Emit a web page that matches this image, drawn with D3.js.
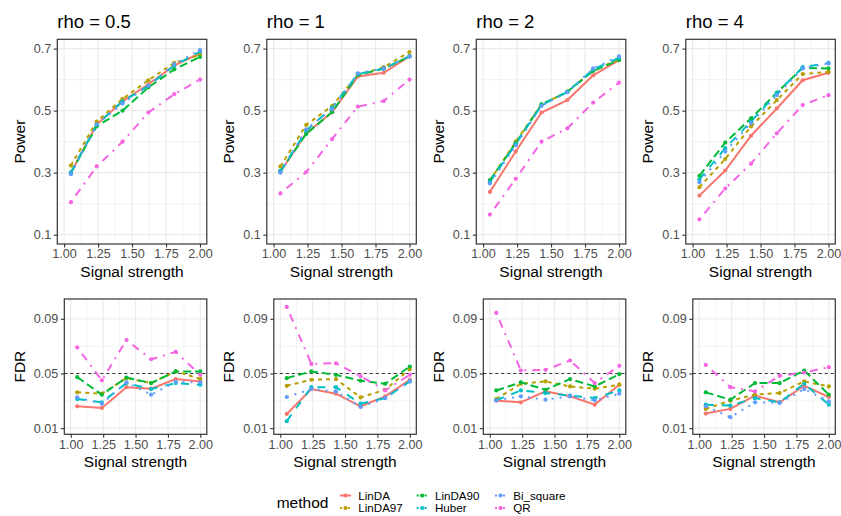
<!DOCTYPE html>
<html>
<head>
<meta charset="utf-8">
<script src="https://cdn.jsdelivr.net/npm/d3@7"></script>
<style>
  body { margin: 0; background: #fff; }
  svg { font-family: "Liberation Sans", Arial, sans-serif; }
</style>
</head>
<body>
<svg id="chart" width="841" height="516"></svg>
<script>
// ---- data ----
const signal = [1.05, 1.24, 1.43, 1.62, 1.81, 2.00];
const methods = ["LinDA", "LinDA97", "LinDA90", "Huber", "Bi_square", "QR"];
const rhoTitles = ["rho = 0.5", "rho = 1", "rho = 2", "rho = 4"];
const xTicks = [1.00, 1.25, 1.50, 1.75, 2.00];
const powerTicks = [0.1, 0.3, 0.5, 0.7];
const fdrTicks = [0.01, 0.05, 0.09];
const fdrLevel = 0.05;

// rows follow the order of `methods`
const powerRho05 = [
  [0.300, 0.455, 0.530, 0.585, 0.645, 0.685],
  [0.323, 0.465, 0.538, 0.598, 0.654, 0.680],
  [0.300, 0.450, 0.500, 0.575, 0.633, 0.673],
  [0.300, 0.455, 0.530, 0.580, 0.645, 0.690],
  [0.295, 0.455, 0.523, 0.580, 0.650, 0.695],
  [0.205, 0.320, 0.400, 0.494, 0.553, 0.600]
];
const powerRho1 = [
  [0.302, 0.427, 0.495, 0.610, 0.622, 0.675],
  [0.320, 0.454, 0.515, 0.615, 0.640, 0.689],
  [0.305, 0.425, 0.495, 0.615, 0.635, 0.675],
  [0.305, 0.435, 0.510, 0.618, 0.636, 0.675],
  [0.300, 0.440, 0.505, 0.620, 0.636, 0.675],
  [0.233, 0.302, 0.408, 0.513, 0.531, 0.600]
];
const powerRho2 = [
  [0.238, 0.368, 0.494, 0.534, 0.614, 0.663],
  [0.275, 0.400, 0.520, 0.561, 0.630, 0.665],
  [0.275, 0.395, 0.520, 0.561, 0.628, 0.663],
  [0.270, 0.392, 0.518, 0.560, 0.633, 0.670],
  [0.265, 0.388, 0.515, 0.560, 0.636, 0.675],
  [0.165, 0.280, 0.400, 0.443, 0.526, 0.590]
];
const powerRho4 = [
  [0.226, 0.307, 0.419, 0.507, 0.598, 0.622],
  [0.253, 0.344, 0.449, 0.534, 0.618, 0.625],
  [0.290, 0.397, 0.475, 0.558, 0.638, 0.636],
  [0.278, 0.379, 0.465, 0.556, 0.640, 0.654],
  [0.269, 0.368, 0.460, 0.550, 0.636, 0.652],
  [0.149, 0.249, 0.329, 0.427, 0.518, 0.550]
];
const fdrRho05 = [
  [0.0260, 0.0248, 0.0400, 0.0389, 0.0459, 0.0442],
  [0.0362, 0.0352, 0.0466, 0.0430, 0.0515, 0.0460],
  [0.0473, 0.0345, 0.0470, 0.0430, 0.0515, 0.0515],
  [0.0313, 0.0289, 0.0430, 0.0386, 0.0430, 0.0418],
  [0.0325, 0.0279, 0.0435, 0.0345, 0.0439, 0.0435],
  [0.0691, 0.0450, 0.0745, 0.0604, 0.0658, 0.0490]
];
const fdrRho1 = [
  [0.0204, 0.0386, 0.0352, 0.0260, 0.0333, 0.0454],
  [0.0410, 0.0454, 0.0459, 0.0325, 0.0381, 0.0532],
  [0.0466, 0.0515, 0.0490, 0.0447, 0.0425, 0.0551],
  [0.0151, 0.0400, 0.0400, 0.0279, 0.0320, 0.0442],
  [0.0328, 0.0386, 0.0369, 0.0255, 0.0320, 0.0442],
  [0.0987, 0.0570, 0.0575, 0.0480, 0.0376, 0.0490]
];
const fdrRho2 = [
  [0.0301, 0.0289, 0.0369, 0.0333, 0.0272, 0.0418],
  [0.0313, 0.0425, 0.0442, 0.0405, 0.0389, 0.0418],
  [0.0376, 0.0435, 0.0381, 0.0459, 0.0405, 0.0495],
  [0.0304, 0.0376, 0.0357, 0.0338, 0.0320, 0.0376],
  [0.0304, 0.0333, 0.0308, 0.0333, 0.0304, 0.0352],
  [0.0944, 0.0522, 0.0527, 0.0595, 0.0430, 0.0556]
];
const fdrRho4 = [
  [0.0207, 0.0241, 0.0338, 0.0289, 0.0410, 0.0328],
  [0.0241, 0.0301, 0.0345, 0.0357, 0.0442, 0.0405],
  [0.0362, 0.0308, 0.0430, 0.0430, 0.0522, 0.0345],
  [0.0272, 0.0265, 0.0320, 0.0289, 0.0425, 0.0272],
  [0.0260, 0.0180, 0.0289, 0.0284, 0.0386, 0.0296],
  [0.0563, 0.0400, 0.0369, 0.0483, 0.0507, 0.0546]
];

const powerData = [powerRho05, powerRho1, powerRho2, powerRho4];
const fdrData = [fdrRho05, fdrRho1, fdrRho2, fdrRho4];

// ---- styling ----
const colors = ["#F8766D", "#B79F00", "#00BA38", "#00BFC4", "#619CFF", "#F564E3"];
const dashes = ["none", "4,4", "8,4", "8,8", "2,6", "2,6,8,6"];
const color = d3.scaleOrdinal().domain(methods).range(colors);
const dash = d3.scaleOrdinal().domain(methods).range(dashes);

const svg = d3.select("#chart");
const cellW = 209.5;
const lineW = 2;

// expand limits by 5% like ggplot
const expand = (lo, hi) => [lo - (hi - lo) * 0.05, hi + (hi - lo) * 0.05];

function drawPanel(g, opts) {
  const { x0, x1, y0, y1, yDomain, yTicks, yMinor, values, yTitle, title, yFmt } = opts;

  const x = d3.scaleLinear().domain(expand(1, 2)).range([x0, x1]);
  const y = d3.scaleLinear().domain(expand(yDomain[0], yDomain[1])).range([y1, y0]);

  // background + grid
  g.append("rect").attr("x", x0).attr("y", y0).attr("width", x1 - x0).attr("height", y1 - y0)
    .attr("fill", "#fff");

  const xMinor = [1.125, 1.375, 1.625, 1.875];
  g.selectAll(".gx-minor").data(xMinor).enter().append("line")
    .attr("x1", d => x(d)).attr("x2", d => x(d)).attr("y1", y0).attr("y2", y1)
    .attr("stroke", "#EBEBEB").attr("stroke-width", 0.6);
  g.selectAll(".gy-minor").data(yMinor).enter().append("line")
    .attr("y1", d => y(d)).attr("y2", d => y(d)).attr("x1", x0).attr("x2", x1)
    .attr("stroke", "#EBEBEB").attr("stroke-width", 0.6);
  g.selectAll(".gx").data(xTicks).enter().append("line")
    .attr("x1", d => x(d)).attr("x2", d => x(d)).attr("y1", y0).attr("y2", y1)
    .attr("stroke", "#EBEBEB").attr("stroke-width", 1.2);
  g.selectAll(".gy").data(yTicks).enter().append("line")
    .attr("y1", d => y(d)).attr("y2", d => y(d)).attr("x1", x0).attr("x2", x1)
    .attr("stroke", "#EBEBEB").attr("stroke-width", 1.2);

  if (opts.hline != null) {
    g.append("line")
      .attr("x1", x0).attr("x2", x1).attr("y1", y(opts.hline)).attr("y2", y(opts.hline))
      .attr("stroke", "#000").attr("stroke-width", 0.8).attr("stroke-dasharray", "3,3");
  }

  // series
  const line = d3.line().x((d, i) => x(signal[i])).y(d => y(d));
  const clip = "clip" + Math.round(x0) + "_" + Math.round(y0);
  g.append("clipPath").attr("id", clip).append("rect")
    .attr("x", x0).attr("y", y0).attr("width", x1 - x0).attr("height", y1 - y0);
  const plot = g.append("g").attr("clip-path", `url(#${clip})`);

  methods.forEach((m, k) => {
    plot.append("path")
      .datum(values[k])
      .attr("d", line)
      .attr("fill", "none")
      .attr("stroke", color(m))
      .attr("stroke-width", lineW)
      .attr("stroke-dasharray", dash(m));
  });
  methods.forEach((m, k) => {
    plot.selectAll(".pt" + k).data(values[k]).enter().append("circle")
      .attr("cx", (d, i) => x(signal[i]))
      .attr("cy", d => y(d))
      .attr("r", 2.1)
      .attr("fill", color(m));
  });

  // border
  g.append("rect").attr("x", x0).attr("y", y0).attr("width", x1 - x0).attr("height", y1 - y0)
    .attr("fill", "none").attr("stroke", "#333333").attr("stroke-width", 1.2);

  // axes
  const xAxis = g.append("g").attr("transform", `translate(0,${y1})`)
    .call(d3.axisBottom(x).tickValues(xTicks).tickFormat(d3.format(".2f")).tickSize(3.5).tickPadding(2));
  const yAxis = g.append("g").attr("transform", `translate(${x0},0)`)
    .call(d3.axisLeft(y).tickValues(yTicks).tickFormat(yFmt).tickSize(3.5).tickPadding(2.5));
  [xAxis, yAxis].forEach(a => {
    a.select(".domain").remove();
    a.selectAll(".tick line").attr("stroke", "#333333").attr("stroke-width", 1.1);
    a.selectAll(".tick text").attr("fill", "#4D4D4D").style("font-size", "12.6px");
  });

  // titles
  g.append("text")
    .attr("x", (x0 + x1) / 2).attr("y", y1 + 33)
    .attr("text-anchor", "middle").style("font-size", "15.5px").attr("fill", "#000")
    .text("Signal strength");
  g.append("text")
    .attr("transform", `translate(${opts.cellX + 24.5},${(y0 + y1) / 2}) rotate(-90)`)
    .attr("text-anchor", "middle").style("font-size", "15.5px").attr("fill", "#000")
    .text(yTitle);
  if (title) {
    g.append("text")
      .attr("x", x0).attr("y", 27.5)
      .style("font-size", "18.5px").attr("fill", "#000")
      .text(title);
  }
}

rhoTitles.forEach((t, i) => {
  const cellX = i * cellW;
  drawPanel(svg.append("g"), {
    cellX, x0: cellX + 57.3, x1: cellX + 206.8, y0: 39.3, y1: 244,
    yDomain: [0.1, 0.7], yTicks: powerTicks, yMinor: [0.2, 0.4, 0.6],
    values: powerData[i], yTitle: "Power", title: t, yFmt: d3.format(".1f")
  });
  drawPanel(svg.append("g"), {
    cellX, x0: cellX + 64.3, x1: cellX + 206.8, y0: 299, y1: 434.3,
    yDomain: [0.01, 0.1], yTicks: fdrTicks, yMinor: [0.03, 0.07],
    values: fdrData[i], yTitle: "FDR", title: null, yFmt: d3.format(".2f"),
    hline: fdrLevel
  });
});

// ---- legend ----
const legend = svg.append("g");
legend.append("text")
  .attr("x", 276.7).attr("y", 507.5)
  .style("font-size", "15.5px").attr("fill", "#000")
  .text("method");

const colX = [340, 416.7, 495];
const rowY = [495.5, 508];
methods.forEach((m, k) => {
  const cx = colX[Math.floor(k / 2)];
  const cy = rowY[k % 2];
  const key = legend.append("g");
  key.append("line")
    .attr("x1", cx).attr("x2", cx + 11).attr("y1", cy).attr("y2", cy)
    .attr("stroke", color(m)).attr("stroke-width", lineW)
    .attr("stroke-dasharray", dash(m) === "none" ? null : "2,2");
  key.append("circle").attr("cx", cx + 5.5).attr("cy", cy).attr("r", 2.1).attr("fill", color(m));
  key.append("text")
    .attr("x", cx + 18.3).attr("y", cy + 4)
    .style("font-size", "11.6px").attr("fill", "#000")
    .text(m);
});
</script>
</body>
</html>
